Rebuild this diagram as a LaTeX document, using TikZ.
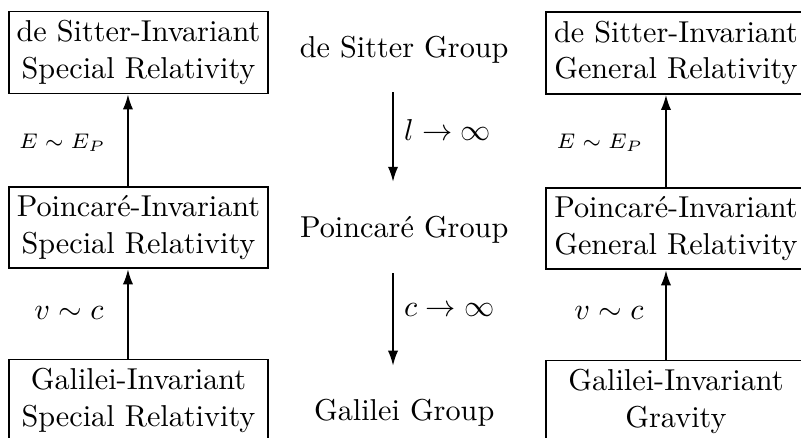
\documentclass[tikz,border=0pt]{standalone}
\usepackage{amsmath,amssymb}
\usepackage{tikz}
\usetikzlibrary{arrows.meta,positioning}
\tikzset{
  frame/.style={draw, line width=0.6pt, align=center, inner xsep=1pt,
    inner ysep=3pt, minimum width=3.02cm, minimum height=0.95cm},
  grp/.style={anchor=base},
  flow/.style={-{Latex[length=5pt,width=3.4pt]}, line width=0.6pt},
  small/.style={font=\scriptsize},
}

\begin{document}
\begin{tikzpicture}
\path[use as bounding box, clip] (0,0) rectangle (9.314,5.093);
% ---------- left column: special relativity ----------
\node[frame] (dssr) at (1.610,4.483) {de Sitter-Invariant\\Special Relativity};
\node[frame] (psr) at (1.610,2.448) {Poincaré-Invariant\\Special Relativity};
\node[frame] (gsr) at (1.610,0.436) {Galilei-Invariant\\Special Relativity};
\coordinate (lx) at (1.488,0);
\draw[flow] (psr.north -| lx) -- (dssr.south -| lx);
\draw[flow] (gsr.north -| lx) -- (psr.south -| lx);
\node[small] (lep) at (0.727,3.430) {$E\sim E_P$};
\node (lvc) at (0.802,1.453) {$v\sim c$};

% ---------- middle column: groups ----------
\node[grp] (dsg) at (4.70,4.430) {de Sitter Group};
\node[grp] (pg) at (4.70,2.326) {Poincaré Group};
\node[grp] (gg) at (4.70,0.198) {Galilei Group};
\coordinate (mx) at (4.570,0);
\draw[flow, shorten <=2.2mm, shorten >=2.8mm] (dsg.south -| mx)
  -- node[pos=0.425, right] (llim) {$l\to\infty$} (pg.north -| mx);
\draw[flow, shorten <=2.2mm, shorten >=2.7mm] (pg.south -| mx)
  -- node[pos=0.41, right] (clim) {$c\to\infty$} (gg.north -| mx);

% ---------- right column: general relativity ----------
\node[frame] (dsgr) at (7.860,4.477) {de Sitter-Invariant\\General Relativity};
\node[frame] (pgr) at (7.860,2.436) {Poincaré-Invariant\\General Relativity};
\node[frame] (ggr) at (7.860,0.424) {Galilei-Invariant\\Gravity};
\coordinate (rx) at (7.744,0);
\draw[flow] (pgr.north -| rx) -- (dsgr.south -| rx);
\draw[flow] (ggr.north -| rx) -- (pgr.south -| rx);
\node[small] (rep) at (6.977,3.430) {$E\sim E_P$};
\node (rvc) at (7.081,1.453) {$v\sim c$};
\end{tikzpicture}
\end{document}
